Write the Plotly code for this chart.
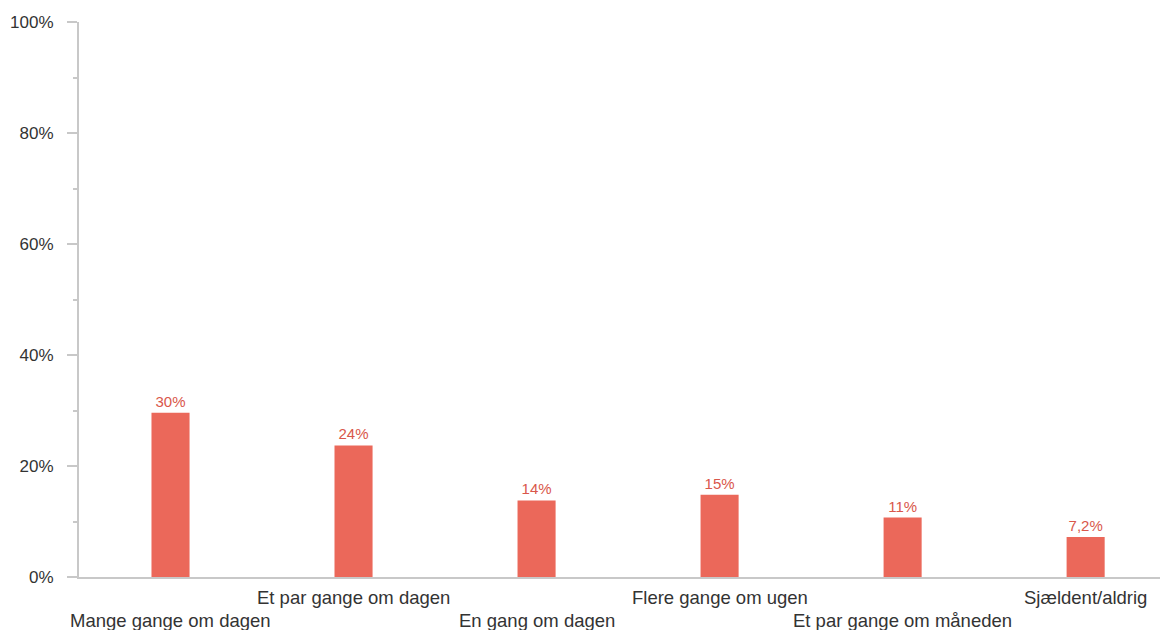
import plotly.graph_objects as go

# Data
categories = ["Mange gange om dagen", "Et par gange om dagen", "En gang om dagen",
              "Flere gange om ugen", "Et par gange om måneden", "Sjældent/aldrig"]
values = [29.6, 23.7, 13.8, 14.8, 10.7, 7.2]
value_labels = ["30%", "24%", "14%", "15%", "11%", "7,2%"]

# page body has an 8px margin, so the figure is sized to fit the window
W, H = 1160, 622
M = dict(l=71, r=0, t=14, b=53)

fig = go.Figure(go.Bar(
    x=list(range(len(categories))),
    y=values,
    width=0.208,
    marker=dict(color="#eb685a", line=dict(width=0)),
    text=value_labels,
    textposition="outside",
    textfont=dict(color="#d9574b", size=15),
    cliponaxis=False,
    hoverinfo="skip",
))

# staggered category labels (every other one sits a line lower)
plot_h = H - M["t"] - M["b"]
for i, c in enumerate(categories):
    dy = 43 if i % 2 == 0 else 20
    fig.add_annotation(x=i, y=-dy / plot_h, xref="x", yref="paper",
                       text=c, showarrow=False, xanchor="center", yanchor="middle",
                       font=dict(size=18.5, color="#333333"))

fig.update_layout(
    width=W, height=H,
    margin=M,
    plot_bgcolor="white", paper_bgcolor="white",
    font=dict(family="Liberation Sans, Arial, sans-serif", size=17, color="#333333"),
    showlegend=False,
    xaxis=dict(
        range=[-0.5, 5.45],
        showticklabels=False, automargin=False,
        showgrid=False, zeroline=False,
        showline=True, linecolor="#c8c8c8", linewidth=2,
    ),
    yaxis=dict(
        range=[0, 100], automargin=False,
        tickmode="linear", tick0=0, dtick=20,
        ticksuffix="%",
        showgrid=False, zeroline=False,
        showline=True, linecolor="#c8c8c8", linewidth=2,
        ticks="outside", ticklen=10, tickcolor="#c8c8c8", tickwidth=2,
        minor=dict(ticks="outside", ticklen=4, tickcolor="#c8c8c8", tickwidth=2, dtick=10),
        ticklabelstandoff=10,
    ),
)

fig.write_html("out.html")
